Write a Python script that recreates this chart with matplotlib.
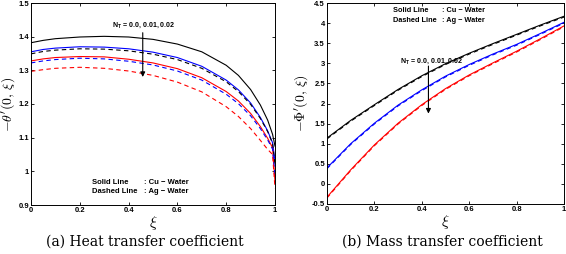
import numpy as np
import matplotlib.pyplot as plt

plt.rcParams['mathtext.fontset'] = 'cm'
plt.rcParams['font.family'] = ['Liberation Sans', 'DejaVu Sans']

# (a) heat transfer coefficient
xi_a = [0, 0.05, 0.1, 0.2, 0.3, 0.4, 0.5, 0.6, 0.7, 0.8, 0.85, 0.9, 0.94, 0.97, 0.99, 1.0]
cu_a_nt0 = [1.382, 1.389, 1.394, 1.399, 1.401, 1.399, 1.392, 1.378, 1.355, 1.315, 1.285, 1.243, 1.197, 1.152, 1.11, 1.075]
cu_a_nt1 = [1.355, 1.362, 1.366, 1.370, 1.369, 1.364, 1.354, 1.338, 1.312, 1.271, 1.242, 1.203, 1.160, 1.12, 1.085, 1.03]
cu_a_nt2 = [1.328, 1.334, 1.338, 1.341, 1.340, 1.333, 1.322, 1.305, 1.278, 1.237, 1.209, 1.172, 1.133, 1.098, 1.07, 0.97]
ag_a_nt0 = [1.349, 1.356, 1.360, 1.364, 1.363, 1.358, 1.348, 1.332, 1.306, 1.266, 1.237, 1.199, 1.157, 1.118, 1.083, 1.02]
ag_a_nt1 = [1.322, 1.328, 1.332, 1.336, 1.334, 1.327, 1.316, 1.298, 1.271, 1.229, 1.201, 1.165, 1.127, 1.093, 1.066, 0.99]
ag_a_nt2 = [1.297, 1.302, 1.306, 1.309, 1.306, 1.298, 1.285, 1.265, 1.236, 1.192, 1.163, 1.127, 1.092, 1.065, 1.05, 0.95]

# (b) mass transfer coefficient
xi_b = [0, 0.1, 0.2, 0.3, 0.4, 0.5, 0.6, 0.7, 0.8, 0.9, 1.0]
cu_b_nt0 = [1.14, 1.58, 1.97, 2.35, 2.69, 2.99, 3.25, 3.49, 3.72, 3.95, 4.17]
cu_b_nt1 = [0.40, 1.00, 1.51, 1.96, 2.34, 2.68, 2.97, 3.23, 3.47, 3.74, 4.02]
cu_b_nt2 = [-0.33, 0.35, 0.97, 1.51, 1.97, 2.37, 2.71, 3.01, 3.30, 3.61, 3.93]
ag_b_nt0 = [1.12, 1.56, 1.95, 2.33, 2.67, 2.97, 3.23, 3.47, 3.70, 3.93, 4.15]
ag_b_nt1 = [0.38, 0.98, 1.49, 1.94, 2.32, 2.66, 2.95, 3.21, 3.45, 3.72, 4.00]
ag_b_nt2 = [-0.35, 0.33, 0.95, 1.49, 1.95, 2.35, 2.69, 2.99, 3.28, 3.59, 3.91]

colors = ['black', 'blue', 'red']
nt_label = r'N$_\mathregular{T}$ = 0.0, 0.01, 0.02'

fig = plt.figure(figsize=(5.66, 2.54), dpi=100)
ax1 = fig.add_axes([31/566, 49/254, 244/566, 202/254])
ax2 = fig.add_axes([327/566, 50/254, 237/566, 201/254])

for c, ys in zip(colors, [cu_a_nt0, cu_a_nt1, cu_a_nt2]):
    ax1.plot(xi_a, ys, color=c, lw=0.8)
for c, ys in zip(colors, [ag_a_nt0, ag_a_nt1, ag_a_nt2]):
    ax1.plot(xi_a, ys, color=c, lw=0.8, ls=(0, (4, 3)))
for c, ys in zip(colors, [cu_b_nt0, cu_b_nt1, cu_b_nt2]):
    ax2.plot(xi_b, ys, color=c, lw=0.8)
for c, ys in zip(colors, [ag_b_nt0, ag_b_nt1, ag_b_nt2]):
    ax2.plot(xi_b, ys, color=c, lw=0.8, ls=(0, (4, 3)))

ax1.set_xlim(0, 1)
ax1.set_ylim(0.9, 1.5)
ax1.set_yticks([0.9, 1, 1.1, 1.2, 1.3, 1.4, 1.5])
ax1.set_yticklabels(['0.9', '1', '1.1', '1.2', '1.3', '1.4', '1.5'])
ax2.set_xlim(0, 1)
ax2.set_ylim(-0.5, 4.5)
ax2.set_yticks(np.arange(-0.5, 4.51, 0.5))
ax2.set_yticklabels(['-0.5', '0', '0.5', '1', '1.5', '2', '2.5', '3', '3.5', '4', '4.5'])

for ax in (ax1, ax2):
    ax.set_xticks([0, 0.2, 0.4, 0.6, 0.8, 1])
    ax.set_xticklabels(['0', '0.2', '0.4', '0.6', '0.8', '1'])
    ax.tick_params(direction='in', length=2, width=0.6, labelsize=5.5, pad=1.5,
                   top=True, right=True)
    for lab in ax.get_xticklabels() + ax.get_yticklabels():
        lab.set_fontweight('bold')
    for s in ax.spines.values():
        s.set_linewidth(0.7)
    ax.set_xlabel(r'$\xi$', fontsize=11, labelpad=0)

ax1.set_ylabel(r"$-\theta'(0,\,\xi)$", fontsize=10, labelpad=1)
ax2.set_ylabel(r"$-\Phi'(0,\,\xi)$", fontsize=10, labelpad=1)

# annotations (a)
ax1.annotate('', xy=(0.458, 1.272), xytext=(0.458, 1.42),
             arrowprops=dict(arrowstyle='-|>', color='black', lw=0.8, mutation_scale=7))
ax1.text(0.33, 1.435, nt_label, fontsize=5, fontweight='bold', va='center')
ax1.text(0.25, 0.967, 'Solid Line', fontsize=5.5, fontweight='bold', va='center')
ax1.text(0.465, 0.967, ': Cu \u2212 Water', fontsize=5.5, fontweight='bold', va='center')
ax1.text(0.25, 0.939, 'Dashed Line', fontsize=5.5, fontweight='bold', va='center')
ax1.text(0.465, 0.939, ': Ag \u2212 Water', fontsize=5.5, fontweight='bold', va='center')

# annotations (b)
ax2.annotate('', xy=(0.428, 1.68), xytext=(0.428, 3.0),
             arrowprops=dict(arrowstyle='-|>', color='black', lw=0.8, mutation_scale=7))
ax2.text(0.31, 3.06, nt_label, fontsize=5, fontweight='bold', va='center')
ax2.text(0.28, 4.32, 'Solid Line', fontsize=5.3, fontweight='bold', va='center')
ax2.text(0.485, 4.32, ': Cu \u2212 Water', fontsize=5.3, fontweight='bold', va='center')
ax2.text(0.28, 4.06, 'Dashed Line', fontsize=5.3, fontweight='bold', va='center')
ax2.text(0.485, 4.06, ': Ag \u2212 Water', fontsize=5.3, fontweight='bold', va='center')

fig.text(145/566, 1 - 242/254, '(a) Heat transfer coefficient', ha='center', va='center',
         fontsize=10, family='DejaVu Serif')
fig.text(442/566, 1 - 242/254, '(b) Mass transfer coefficient', ha='center', va='center',
         fontsize=10, family='DejaVu Serif')

plt.savefig('out.png', dpi=100)
plt.close()
